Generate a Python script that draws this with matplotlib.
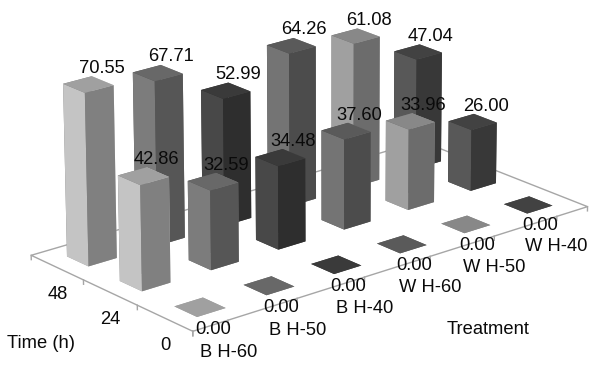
import matplotlib
matplotlib.use("Agg")
import matplotlib.pyplot as plt
from mpl_toolkits.mplot3d import proj3d
import numpy as np

plt.rcParams['font.family'] = ['Liberation Sans', 'DejaVu Sans']

treatments = ['B H-60', 'B H-50', 'B H-40', 'W H-60', 'W H-50', 'W H-40']
times = ['0', '24', '48']
values_0h = [0.00, 0.00, 0.00, 0.00, 0.00, 0.00]
values_24h = [42.86, 32.59, 34.48, 37.60, 33.96, 26.00]
values_48h = [70.55, 67.71, 52.99, 64.26, 61.08, 47.04]
left_faces = ['#c4c4c4', '#7c7c7c', '#484848', '#747474', '#a0a0a0', '#585858']
right_faces = ['#808080', '#565656', '#2e2e2e', '#4c4c4c', '#6c6c6c', '#383838']
top_faces = ['#a0a0a0', '#686868', '#3a3a3a', '#5a5a5a', '#888888', '#424242']

series = [values_0h, values_24h, values_48h]
W = 0.41
GREY = '#a6a6a6'
INK = '#0a0a0a'
FS = 13.2

# Camera calibration: where points of the 3D box fall in the 600x365 picture.
a, b = 0.5 - W / 2, 0.5 + W / 2
camera_world = [
    (0, 0, 0), (6, 0, 0), (0, 3, 0),
    (0 + a, 2 + a, 70.55), (0 + b, 2 + a, 70.55), (0 + a, 2 + b, 70.55), (0 + b, 2 + b, 70.55), (0 + a, 2 + a, 0),
    (5 + a, 1 + a, 26), (5 + b, 1 + a, 26), (5 + a, 1 + b, 26), (5 + b, 1 + b, 26), (5 + a, 1 + a, 0),
    (5 + a, 2 + a, 47.04), (5 + b, 2 + a, 47.04), (5 + a, 2 + b, 47.04), (5 + b, 2 + b, 47.04), (5 + b, 2 + a, 0),
    (0 + a, 1 + a, 0),
    (5 + a, a, 0), (5 + b, a, 0), (5 + a, b, 0), (5 + b, b, 0),
    (a, b, 0), (b, a, 0), (b, b, 0),
    (4 + a, 1 + b, 33.96), (4 + a, 1 + a, 33.96), (4 + b, 1 + a, 33.96), (4 + b, 1 + b, 33.96), (4 + a, 1 + a, 0),
    (3 + a, 1 + b, 37.6), (3 + a, 1 + a, 37.6), (3 + b, 1 + a, 37.6), (3 + b, 1 + b, 37.6), (3 + a, 1 + a, 0),
    (2 + a, 1 + b, 34.48), (2 + b, 1 + b, 34.48), (2 + a, 1 + a, 0),
    (1 + a, 2 + b, 67.71), (1 + b, 2 + b, 67.71), (1 + b, 2 + a, 67.71), (1 + a, 2 + a, 67.71),
    (2 + a, 2 + b, 52.99), (2 + b, 2 + b, 52.99), (2 + b, 2 + a, 52.99), (2 + a, 2 + a, 52.99),
    (4 + a, 2 + b, 61.08), (4 + b, 2 + b, 61.08), (4 + b, 2 + a, 61.08), (4 + a, 2 + a, 61.08),
]
camera_pixel = [
    (193, 332), (587, 206), (31, 255),
    (85, 95), (113, 85), (64, 84), (92, 76), (88, 266),
    (472, 127), (497, 123), (449, 122), (473, 114), (471, 190),
    (417, 60), (442, 52), (395, 51), (419, 44), (440, 163),
    (142, 291),
    (528, 214), (552, 205), (505, 205), (528, 197),
    (176, 305), (225, 308), (200, 298),
    (387, 121), (409, 130), (434, 122), (412, 114), (409, 209),
    (322, 131), (345, 139), (370, 133), (347, 123), (345, 230),
    (256, 157), (283, 149), (279, 250),
    (133, 72), (160, 65), (182, 74), (155, 80),
    (202, 90), (228, 83), (250, 91), (223, 98),
    (332, 36), (357, 28), (379, 37), (354, 43),
]

rows, rhs = [], []
for (X, Y, Z), (u, v) in zip(camera_world, camera_pixel):
    rows.append([X, Y, Z, 1, 0, 0, 0, 0, -u * X, -u * Y, -u * Z])
    rhs.append(u)
    rows.append([0, 0, 0, 0, X, Y, Z, 1, -v * X, -v * Y, -v * Z])
    rhs.append(v)
p = np.linalg.lstsq(np.array(rows, float), np.array(rhs, float), rcond=None)[0]
row_u, row_v, row_w = p[:4], p[4:8], np.r_[p[8:11], 1.0]

LEFT, BOTTOM, SIDE = 6.0, -71.5, 590.0
VIEW0, VIEWSPAN = -0.095, 0.185
kx = VIEWSPAN / SIDE
M = np.array([
    kx * row_u + (VIEW0 - kx * LEFT) * row_w,
    -kx * row_v + (VIEW0 + kx * (365 - BOTTOM)) * row_w,
    np.array([49.7, 60.5, -1.03, 0.0]) / 100.0,
    row_w,
])

fig = plt.figure(figsize=(6, 3.65), dpi=100)
ax = fig.add_axes([LEFT / 600, BOTTOM / 365, SIDE / 600, SIDE / 365],
                  projection='3d', proj_type='ortho')
ax.set_box_aspect((510, 255, 210))
ax.set_xlim(0, 6)
ax.set_ylim(0, 3)
ax.set_zlim(0, 80)
ax.set_axis_off()
ax.get_proj = lambda: M


def label(x, y, z, s):
    xv, yv, _ = proj3d.proj_transform(x, y, z, M)
    ax.text2D(float(xv), float(yv), s, transform=ax.transData, ha='center', va='center',
              fontsize=FS, color=INK, zorder=1000)


# floor outline and tick marks
ax.plot([0, 6, 6, 0, 0], [0, 0, 3, 3, 0], [0, 0, 0, 0, 0], color=GREY, lw=1, zorder=1)
for i in range(len(treatments)):
    ax.plot([i + 0.5] * 2, [0, 0], [0, -1.8], color=GREY, lw=1, zorder=1)
for x in (0, 6):
    ax.plot([x] * 2, [0, 0], [0, -1.8], color=GREY, lw=1, zorder=1)
for j in range(len(times) + 1):
    ax.plot([0, 0], [j, j], [0, -1.8], color=GREY, lw=1, zorder=1)

# bars
for j, vals in enumerate(series):
    for i, v in enumerate(vals):
        # faces: bottom, top, -y, +y, -x, +x
        cols = [top_faces[i], top_faces[i], right_faces[i], right_faces[i],
                left_faces[i], left_faces[i]]
        ax.bar3d(i + 0.5 - W / 2, j + 0.5 - W / 2, 0, W, W, v, color=cols,
                 shade=False, linewidth=0)
        if v > 0:
            label(i + 0.5 + 0.119, j + 0.5 - 0.097, v + 6.6, f'{v:.2f}')
        else:
            label(i + 0.5 + 0.11, j + 0.5 - 0.09, -9, f'{v:.2f}')

# axis tick labels
for i, t in enumerate(treatments):
    label(i + 0.5, 0, -13, t)
for j, t in enumerate(times):
    label(0, j + 0.5, -11, t)

fig.text(41 / 600, 1 - 344 / 365, 'Time (h)', ha='center', va='center', fontsize=FS, color=INK)
fig.text(488 / 600, 1 - 330 / 365, 'Treatment', ha='center', va='center', fontsize=FS, color=INK)

fig.savefig('out.png', dpi=100, facecolor='white')
